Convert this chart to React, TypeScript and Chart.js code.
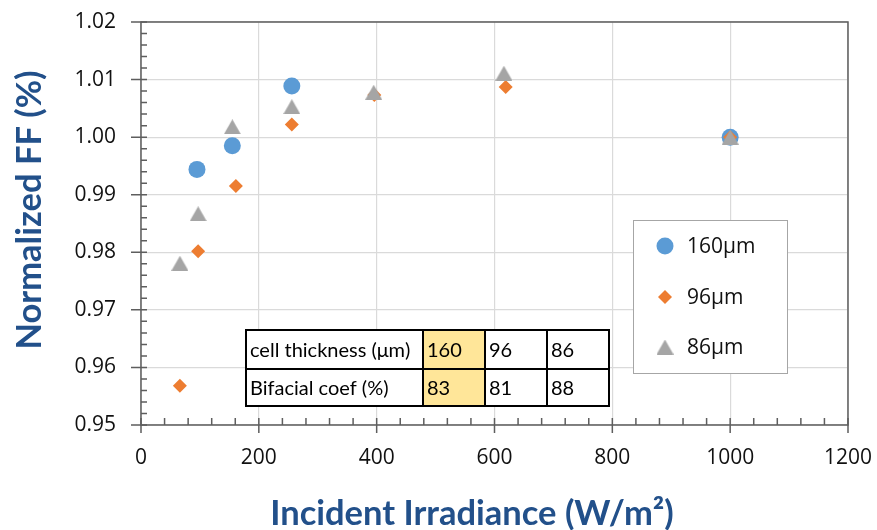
import { useEffect, useRef } from 'react';
import { Chart, registerables } from 'chart.js';

Chart.register(...registerables);

// Irradiance (W/m²) and normalized fill factor for each cell thickness
const irradiance160 = [95, 155, 256, 1000];
const ff160 = [0.9944, 0.9985, 1.0089, 1.0];
const irradiance96 = [66, 97, 161, 256, 396, 619, 1000];
const ff96 = [0.9568, 0.9802, 0.9915, 1.0022, 1.0073, 1.0087, 1.0];
const irradiance86 = [66, 97, 155, 256, 395, 616, 1000];
const ff86 = [0.9781, 0.9867, 1.0018, 1.0053, 1.0078, 1.0111, 1.0];

const seriesNames = ['160μm', '96μm', '86μm'];
const seriesColors = ['#5B9BD5', '#ED7D31', '#A5A5A5'];

// Inset table
const thicknessRow = ['cell thickness (μm)', '160', '96', '86'];
const bifacialRow = ['Bifacial coef (%)', '83', '81', '88'];

const xTitle = 'Incident Irradiance (W/m²)';
const yTitle = 'Normalized FF (%)';

const X_MIN = 0;
const X_MAX = 1200;
const X_STEP = 200;
const X_MINOR = 40;
const Y_MIN = 0.95;
const Y_MAX = 1.02;
const Y_STEP = 0.01;
const Y_MINOR = 0.002;

const TITLE_COLOR = '#22508A';
const AXIS_COLOR = '#5E5E5E';
const GRID_COLOR = '#DADADA';
const TEXT_COLOR = '#111111';

function makeTriangle(color: string, w: number, h: number): HTMLCanvasElement {
  const c = document.createElement('canvas');
  c.width = w;
  c.height = h;
  const g = c.getContext('2d')!;
  g.fillStyle = color;
  g.beginPath();
  g.moveTo(w / 2, 0);
  g.lineTo(w, h);
  g.lineTo(0, h);
  g.closePath();
  g.fill();
  return c;
}

function drawMarker(ctx: CanvasRenderingContext2D, kind: string, x: number, y: number, color: string, tri?: HTMLCanvasElement) {
  ctx.fillStyle = color;
  ctx.beginPath();
  if (kind === 'circle') {
    ctx.arc(x, y, 8.5, 0, Math.PI * 2);
    ctx.fill();
  } else if (kind === 'diamond') {
    const r = 7;
    ctx.moveTo(x - r, y);
    ctx.lineTo(x, y - r);
    ctx.lineTo(x + r, y);
    ctx.lineTo(x, y + r);
    ctx.closePath();
    ctx.fill();
  } else if (tri) {
    ctx.drawImage(tri, x - tri.width / 2, y - tri.height / 2);
  }
}

export default function App() {
  const canvasRef = useRef<HTMLCanvasElement | null>(null);

  useEffect(() => {
    const canvas = canvasRef.current;
    if (!canvas) return;
    const triangle = makeTriangle(seriesColors[2], 17, 15);

    const decor = {
      id: 'decor',
      afterDraw(chart: any) {
        const { ctx, chartArea: a, scales } = chart;
        const xs = scales.x;
        const ys = scales.y;
        ctx.save();

        // plot frame
        ctx.strokeStyle = AXIS_COLOR;
        ctx.lineWidth = 1.5;
        ctx.strokeRect(a.left, a.top, a.right - a.left, a.bottom - a.top);

        // major ticks crossing the axes, minor ticks inside
        ctx.beginPath();
        const nx = Math.round((X_MAX - X_MIN) / X_MINOR);
        for (let i = 0; i <= nx; i++) {
          const v = X_MIN + i * X_MINOR;
          const px = xs.getPixelForValue(v);
          const major = Math.abs(v / X_STEP - Math.round(v / X_STEP)) < 1e-6;
          ctx.moveTo(px, a.bottom - 7);
          ctx.lineTo(px, major ? a.bottom + 8 : a.bottom);
        }
        const ny = Math.round((Y_MAX - Y_MIN) / Y_MINOR);
        for (let i = 0; i <= ny; i++) {
          const v = Y_MIN + i * Y_MINOR;
          const py = ys.getPixelForValue(v);
          const major = i % Math.round(Y_STEP / Y_MINOR) === 0;
          ctx.moveTo(major ? a.left - 10 : a.left, py);
          ctx.lineTo(a.left + 6, py);
        }
        ctx.stroke();

        // inset table
        const cols = [246, 423, 485, 547, 609];
        const rows = [330, 369, 406];
        ctx.fillStyle = '#FFFFFF';
        ctx.fillRect(cols[0], rows[0], cols[4] - cols[0], rows[2] - rows[0]);
        ctx.fillStyle = '#FFE699';
        ctx.fillRect(cols[1], rows[0], cols[2] - cols[1], rows[2] - rows[0]);
        ctx.strokeStyle = '#000000';
        ctx.lineWidth = 2;
        ctx.strokeRect(cols[0], rows[0], cols[4] - cols[0], rows[2] - rows[0]);
        ctx.beginPath();
        ctx.moveTo(cols[0], rows[1]);
        ctx.lineTo(cols[4], rows[1]);
        for (let c = 1; c < 4; c++) {
          ctx.moveTo(cols[c], rows[0]);
          ctx.lineTo(cols[c], rows[2]);
        }
        ctx.stroke();
        ctx.fillStyle = '#000000';
        ctx.font = '20px Lato';
        ctx.textAlign = 'left';
        ctx.textBaseline = 'middle';
        [thicknessRow, bifacialRow].forEach((row, r) => {
          const cy = (rows[r] + rows[r + 1]) / 2 + 1;
          row.forEach((txt, c) => ctx.fillText(txt, cols[c] + 4, cy));
        });

        // legend box
        ctx.fillStyle = '#FFFFFF';
        ctx.fillRect(633, 220, 154, 153);
        ctx.strokeStyle = '#A6A6A6';
        ctx.lineWidth = 1;
        ctx.strokeRect(633.5, 220.5, 154, 153);
        const kinds = ['circle', 'diamond', 'triangle'];
        const ly = [246, 297, 347];
        ctx.font = '21px "Open Sans"';
        kinds.forEach((k, i) => {
          drawMarker(ctx, k, 665, ly[i], seriesColors[i], triangle);
          ctx.fillStyle = TEXT_COLOR;
          ctx.fillText(seriesNames[i], 687, ly[i] + 1);
        });

        // axis titles
        ctx.fillStyle = TITLE_COLOR;
        ctx.font = 'bold 34.5px Lato';
        ctx.textAlign = 'center';
        ctx.textBaseline = 'middle';
        ctx.fillText(xTitle, 472, 514);
        ctx.translate(30, 210);
        ctx.rotate(-Math.PI / 2);
        ctx.fillText(yTitle, 0, 0);
        ctx.restore();
      },
    };

    const toPoints = (xs: number[], ys: number[]) => xs.map((x, i) => ({ x, y: ys[i] }));

    const chart = new Chart(canvas, {
      type: 'scatter',
      data: {
        datasets: [
          {
            label: seriesNames[0],
            data: toPoints(irradiance160, ff160),
            pointStyle: 'circle',
            pointRadius: 8.5,
            backgroundColor: seriesColors[0],
            borderWidth: 0,
            order: 2,
          },
          {
            label: seriesNames[1],
            data: toPoints(irradiance96, ff96),
            pointStyle: 'rectRot',
            pointRadius: 7,
            backgroundColor: seriesColors[1],
            borderWidth: 0,
            order: 1,
          },
          {
            label: seriesNames[2],
            data: toPoints(irradiance86, ff86),
            pointStyle: triangle as any,
            pointRadius: 9,
            backgroundColor: seriesColors[2],
            borderWidth: 0,
            order: 0,
          },
        ],
      },
      options: {
        animation: false,
        responsive: false,
        devicePixelRatio: 1,
        events: [],
        layout: { padding: { top: 22, right: 29, left: 0, bottom: 0 } },
        plugins: {
          legend: { display: false },
          tooltip: { enabled: false },
        },
        scales: {
          x: {
            type: 'linear',
            min: X_MIN,
            max: X_MAX,
            afterFit: (s: any) => {
              s.height = 105;
              s.paddingLeft = 0;
              s.paddingRight = 0;
            },
            ticks: {
              stepSize: X_STEP,
              padding: 20,
              color: TEXT_COLOR,
              font: { family: '"Open Sans"', size: 21 },
              callback: (v: any) => String(v),
            },
            grid: { color: GRID_COLOR, lineWidth: 1.2, drawTicks: false },
            border: { display: false },
          },
          y: {
            type: 'linear',
            min: Y_MIN,
            max: Y_MAX,
            afterFit: (s: any) => {
              s.width = 141;
              s.paddingTop = 0;
              s.paddingBottom = 0;
            },
            ticks: {
              stepSize: Y_STEP,
              padding: 25,
              color: TEXT_COLOR,
              font: { family: '"Open Sans"', size: 21 },
              callback: (v: any) => Number(v).toFixed(2),
            },
            grid: { color: GRID_COLOR, lineWidth: 1.2, drawTicks: false },
            border: { display: false },
          },
        },
      },
      plugins: [decor],
    });

    return () => chart.destroy();
  }, []);

  return (
    <div style={{ position: 'absolute', left: 0, top: 0, width: 877, height: 530, background: '#FFFFFF' }}>
      <canvas ref={canvasRef} width={877} height={530} />
    </div>
  );
}
